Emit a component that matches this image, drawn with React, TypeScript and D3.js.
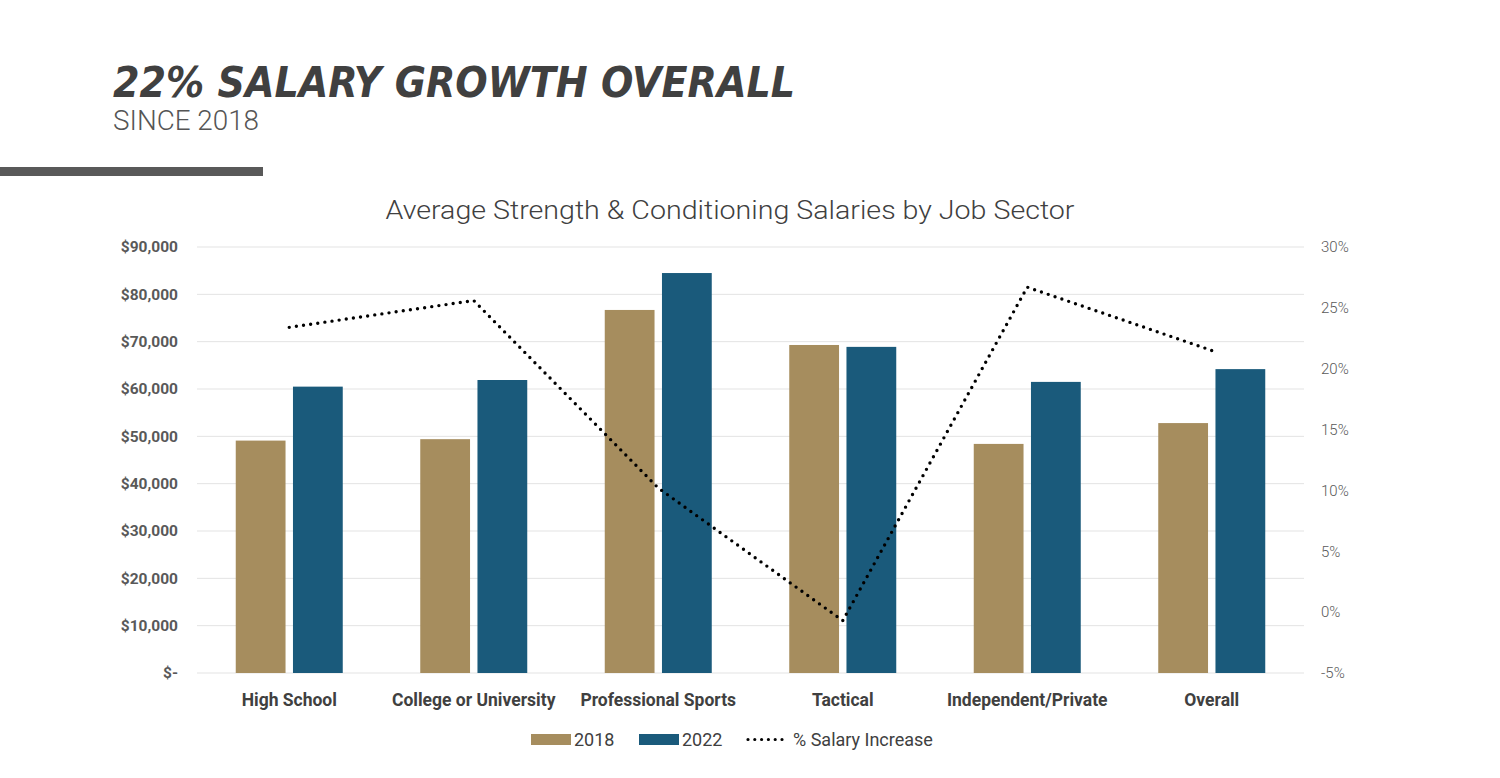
import React from 'react';
import * as d3 from 'd3';

const WIDTH = 1500;
const HEIGHT = 778;
const MARGIN = { top: 247, right: 196, bottom: 105, left: 197 };

const categories = [
  'High School',
  'College or University',
  'Professional Sports',
  'Tactical',
  'Independent/Private',
  'Overall',
];
const series = ['2018', '2022'];
const salary2018 = [49100, 49400, 76700, 69300, 48400, 52800];
const salary2022 = [60500, 61900, 84500, 68900, 61500, 64200];
const pctIncrease = [23.4, 25.6, 10.2, -0.7, 26.7, 21.5];
const leftTicks = [0, 10000, 20000, 30000, 40000, 50000, 60000, 70000, 80000, 90000];
const rightTicks = [-5, 0, 5, 10, 15, 20, 25, 30];

const COLORS: Record<string, string> = { '2018': '#A68D5E', '2022': '#1A5A7B' };
const FONT = 'Roboto, "DejaVu Sans", sans-serif';

const App = () => {
  const innerW = WIDTH - MARGIN.left - MARGIN.right;
  const innerH = HEIGHT - MARGIN.top - MARGIN.bottom;

  const x0 = d3.scaleBand().domain(categories).range([0, innerW]).padding(0);
  const groupW = 107;
  const x1 = d3.scaleBand().domain(series).range([0, groupW]).paddingInner(0.13);
  const yL = d3.scaleLinear().domain([0, 90000]).range([innerH, 0]);
  const yR = d3.scaleLinear().domain([-5, 30]).range([innerH, 0]);

  const fmtMoney = (v: number) => (v === 0 ? '$-' : '$' + d3.format(',')(v));

  const line = d3
    .line<number>()
    .x((_, i) => (x0(categories[i]) as number) + x0.bandwidth() / 2)
    .y((d) => yR(d));

  const values: Record<string, number[]> = { '2018': salary2018, '2022': salary2022 };

  return (
    <svg
      width={WIDTH}
      height={HEIGHT}
      style={{ position: 'absolute', left: 0, top: 0, background: '#fff' }}
    >
      {/* header */}
      <text
        x={113}
        y={97}
        fontFamily='"DejaVu Sans Condensed", "DejaVu Sans", sans-serif'
        fontWeight="bold"
        fontStyle="italic"
        fontSize={42}
        fill="#404040"
        textLength={682}
        lengthAdjust="spacingAndGlyphs"
      >
        22% SALARY GROWTH OVERALL
      </text>
      <text x={113} y={130} fontFamily={FONT} fontWeight={300} fontSize={28} fill="#555" textLength={146} lengthAdjust="spacingAndGlyphs">
        SINCE 2018
      </text>
      <rect x={0} y={167} width={263} height={9} fill="#595959" />

      <text
        x={730}
        y={219}
        textAnchor="middle"
        fontFamily={FONT}
        fontWeight={300}
        fontSize={25}
        fill="#404040"
        textLength={689}
        lengthAdjust="spacingAndGlyphs"
      >
        Average Strength &amp; Conditioning Salaries by Job Sector
      </text>

      <g transform={`translate(${MARGIN.left}, ${MARGIN.top})`}>
        {leftTicks.map((t) => (
          <g key={t}>
            <line x1={0} x2={innerW} y1={yL(t)} y2={yL(t)} stroke="#e3e3e3" strokeWidth={1} />
            <text
              x={-19}
              y={yL(t)}
              dy="0.35em"
              textAnchor="end"
              fontFamily={FONT}
              fontWeight="bold"
              fontSize={15.5}
              fill="#595959"
            >
              {fmtMoney(t)}
            </text>
          </g>
        ))}
        {rightTicks.map((t) => (
          <text
            key={t}
            x={innerW + 17}
            y={yR(t)}
            dy="0.35em"
            fontFamily={FONT}
            fontWeight={300}
            fontSize={15}
            fill="#595959"
          >
            {t}%
          </text>
        ))}

        {categories.map((c, i) => {
          const gx = (x0(c) as number) + (x0.bandwidth() - groupW) / 2;
          return (
            <g key={c} transform={`translate(${gx},0)`}>
              {series.map((s) => (
                <rect
                  key={s}
                  x={x1(s)}
                  y={yL(values[s][i])}
                  width={x1.bandwidth()}
                  height={innerH - yL(values[s][i])}
                  fill={COLORS[s]}
                />
              ))}
            </g>
          );
        })}

        <path
          d={line(pctIncrease) as string}
          fill="none"
          stroke="#000"
          strokeWidth={3.4}
          strokeDasharray="0 7.2"
          strokeLinecap="round"
        />

        {categories.map((c) => (
          <text
            key={c}
            x={(x0(c) as number) + x0.bandwidth() / 2}
            y={innerH + 33}
            textAnchor="middle"
            fontFamily={FONT}
            fontWeight="bold"
            fontSize={17.5}
            fill="#404040"
          >
            {c}
          </text>
        ))}
      </g>

      {/* legend */}
      <g fontFamily={FONT} fontSize={18} fill="#404040">
        <rect x={531} y={734} width={40} height={11} fill={COLORS['2018']} />
        <text x={574} y={746}>2018</text>
        <rect x={639} y={734} width={40} height={11} fill={COLORS['2022']} />
        <text x={682} y={746}>2022</text>
        <line
          x1={748}
          x2={788}
          y1={739.5}
          y2={739.5}
          stroke="#000"
          strokeWidth={3.2}
          strokeDasharray="0 6.8"
          strokeLinecap="round"
        />
        <text x={793} y={746}>% Salary Increase</text>
      </g>
    </svg>
  );
};

export default App;
